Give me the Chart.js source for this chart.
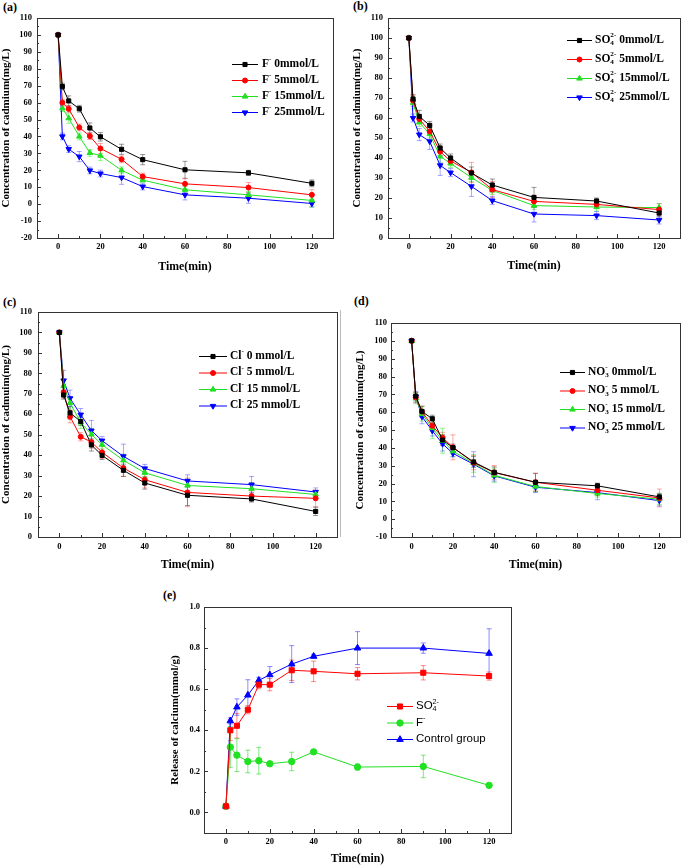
<!DOCTYPE html>
<html lang="en">
<head>
<meta charset="UTF-8">
<title>Cadmium concentration and calcium release</title>
<script src="https://cdn.jsdelivr.net/npm/chart.js"></script>
<style>
    body {
        margin: 0;
        width: 685px;
        height: 868px;
        position: relative;
        overflow: hidden;
        background: #fff;
    }
    canvas { position: absolute; }
    .tag {
        position: absolute;
        font: bold 12px "Liberation Serif", serif;
        color: #000;
    }
    .edge {
        position: absolute;
        left: 340px; top: 310px;
        width: 1px; height: 227px;
        background: #bbb;
    }
</style>
</head>
<body>
<div class="tag" style="left:3px;top:0px">(a)</div>
<div class="tag" style="left:353px;top:-1px">(b)</div>
<div class="tag" style="left:3px;top:295px">(c)</div>
<div class="tag" style="left:354px;top:294px">(d)</div>
<div class="tag" style="left:163px;top:588px">(e)</div>
<div class="edge"></div>
<canvas id="chartA"></canvas>
<canvas id="chartB"></canvas>
<canvas id="chartC"></canvas>
<canvas id="chartD"></canvas>
<canvas id="chartE"></canvas>

<script>
// sampling times (min), shared by every panel
const times = [0, 2, 5, 10, 15, 20, 30, 40, 60, 90, 120];
const xTicks = [0, 20, 40, 60, 80, 100, 120];

// (a) F- concentration series, mg/L
const aLabels = ['F{^-} 0mmol/L', 'F{^-} 5mmol/L', 'F{^-} 15mmol/L', 'F{^-} 25mmol/L'];
const aF0 = [100, 69.5, 61, 56.4, 45, 39.8, 32.4, 26.3, 20.3, 18.5, 12.3];
const aF5 = [100, 60, 56.3, 45.3, 40.2, 32.9, 26.5, 16.3, 12, 9.8, 5.5];
const aF15 = [100, 56.7, 50.8, 40, 30.3, 28.7, 20, 14.2, 8.5, 5.5, 2.2];
const aF25 = [100, 40, 32.5, 28.1, 19.9, 18.1, 15.7, 10.4, 5.5, 3.5, 0.4];
const aErr0 = [0, 2, 3, 2, 3, 2.5, 3, 3, 5, 1.5, 2];
const aErr5 = [0, 2, 2, 2, 2, 3, 2, 2, 3, 3, 3];
const aErr15 = [0, 2, 3, 2, 2, 3, 2, 1, 2, 2, 4];
const aErr25 = [0, 2, 2, 3, 2, 2, 4, 2, 3, 3, 2];
const aTicks = [-20, -10, 0, 10, 20, 30, 40, 50, 60, 70, 80, 90, 100, 110];

// (b) SO4 2- series
const bLabels = ['SO{_4}{^2-} 0mmol/L', 'SO{_4}{^2-} 5mmol/L', 'SO{_4}{^2-} 15mmol/L', 'SO{_4}{^2-} 25mmol/L'];
const bS0 = [100, 69.5, 60.8, 56.3, 45, 40, 32.5, 26.5, 20.3, 18.5, 12.5];
const bS5 = [100, 68.7, 59.5, 53.3, 43.2, 38.5, 32.8, 24.2, 18.3, 16.8, 14.2];
const bS15 = [100, 67.5, 57.8, 52, 40.8, 37.3, 30.2, 23.8, 16.2, 15.5, 15.2];
const bS25 = [100, 60, 51.7, 48.3, 36.3, 32.7, 25.8, 18.7, 12, 11.2, 9];
const bErr0 = [0, 2, 3, 2, 2, 2, 3, 3, 5, 1.5, 2];
const bErr5 = [0, 3, 2, 2, 2, 2, 5, 4, 3, 2, 3];
const bErr15 = [0, 3, 2, 2, 3, 2, 2, 2, 2, 2, 2];
const bErr25 = [0, 2, 3, 4, 5, 2, 5, 2, 4, 2, 2];
const bTicks = [0, 10, 20, 30, 40, 50, 60, 70, 80, 90, 100, 110];

// (c) Cl- series
const cLabels = ['Cl{^-} 0 mmol/L', 'Cl{^-} 5 mmol/L', 'Cl{^-} 15 mmol/L', 'Cl{^-} 25 mmol/L'];
const cC0 = [100, 69.4, 60.7, 56.5, 45, 39.9, 32.6, 26.4, 20.4, 18.6, 12.5];
const cC5 = [100, 70.8, 58.8, 49, 46.4, 41.4, 33.7, 28, 21.8, 20, 18.9];
const cC15 = [100, 73.9, 65.5, 56, 50.2, 45.1, 37.5, 31.4, 25.2, 23.6, 20.8];
const cC25 = [100, 76.5, 67.8, 59.8, 52, 47.1, 39.4, 33.5, 27.4, 25.6, 22];
const cErr0 = [0, 2, 3, 2, 3, 2, 3, 3, 5, 1.5, 2];
const cErr5 = [0, 3, 3, 2, 3, 3, 4, 4, 7, 2, 4];
const cErr15 = [0, 3, 3, 3, 3, 2, 3, 2, 3, 3, 2];
const cErr25 = [0, 5, 4, 3, 5, 2, 6, 2, 3, 4, 2];
const cTicks = [0, 10, 20, 30, 40, 50, 60, 70, 80, 90, 100, 110];

// (d) NO3- series
const dLabels = ['NO{_3}{^-} 0mmol/L', 'NO{_3}{^-} 5 mmol/L', 'NO{_3}{^-} 15 mmol/L', 'NO{_3}{^-} 25 mmol/L'];
const dN0 = [100, 69, 60.4, 56.3, 44.4, 40.1, 32.1, 26.3, 20.7, 18.7, 12.5];
const dN5 = [100, 68.3, 60.3, 52.4, 45.7, 40.3, 31.7, 26.1, 20.7, 16.2, 11.9];
const dN15 = [100, 67.7, 59, 51.1, 44, 38.1, 31.3, 24.6, 18.3, 14.4, 11.2];
const dN25 = [100, 68.7, 57.5, 49.6, 42.2, 36.9, 30.8, 24.3, 17.9, 14.9, 10.4];
const dErr0 = [0, 2, 3, 2, 3, 2, 3, 3, 5, 1.5, 2];
const dErr5 = [0, 3, 3, 3, 3, 7, 4, 4, 5, 3, 5];
const dErr15 = [0, 3, 4, 6, 7, 3, 5, 4, 3, 2, 3];
const dErr25 = [0, 3, 4, 3, 4, 2, 7, 3, 3, 4, 3];
const dTicks = [-10, 0, 10, 20, 30, 40, 50, 60, 70, 80, 90, 100, 110];

// (e) calcium release, mmol/g
const eLabels = ['SO{_4}{^2-}', 'F{^-}', 'Control group'];
const eSO4 = [0.03, 0.40, 0.422, 0.50, 0.622, 0.622, 0.692, 0.687, 0.675, 0.68, 0.664];
const eF = [0.03, 0.318, 0.279, 0.248, 0.252, 0.237, 0.248, 0.295, 0.221, 0.224, 0.132];
const eCtrl = [0.03, 0.446, 0.513, 0.571, 0.643, 0.67, 0.722, 0.76, 0.80, 0.80, 0.774];
const eErrSO4 = [0, 0.05, 0.06, 0.02, 0.02, 0.03, 0.05, 0.05, 0.03, 0.035, 0.02];
const eErrF = [0, 0.1, 0.08, 0.055, 0.065, 0.01, 0.045, 0.01, 0.015, 0.055, 0.01];
const eErrCtrl = [0, 0.015, 0.04, 0.075, 0.015, 0.04, 0.09, 0.01, 0.08, 0.025, 0.12];
const eTicks = [0.0, 0.2, 0.4, 0.6, 0.8, 1.0];

const SERIF = '"Liberation Serif", "Times New Roman", serif';
const SANS = '"Liberation Sans", Arial, sans-serif';
Chart.defaults.font.family = SERIF;

const BLACK = '#000000', RED = '#ff0000', GREEN = '#22e022', BLUE = '#0000ff';

// "SO{_4}{^2-}" -> segments with sub/superscripts
function parseRich(s) {
    const out = [];
    const re = /\{([_^])([^}]*)\}|[^{]+/g;
    let m;
    while ((m = re.exec(s))) out.push(m[1] ? { t: m[2], k: m[1] } : { t: m[0], k: '' });
    return out;
}
function plain(s) {
    return parseRich(s).map(g => g.k === '^' ? g.t.replace('-', '\u207B') : g.t).join('');
}

function drawRich(ctx, s, x, y, font) {
    let subStart = null, subW = 0;
    ctx.fillStyle = '#000';
    ctx.textBaseline = 'middle';
    ctx.textAlign = 'left';
    parseRich(s).forEach(seg => {
        const size = seg.k ? font.size * 0.62 : font.size;
        ctx.font = font.weight + ' ' + size + 'px ' + font.family;
        const w = ctx.measureText(seg.t).width;
        if (seg.k === '^' && subStart !== null) {
            // stack superscript above the preceding subscript
            ctx.fillText(seg.t, subStart, y - font.size * 0.38);
            x = subStart + Math.max(subW, w);
            subStart = null;
            return;
        }
        const dy = seg.k === '^' ? -font.size * 0.38 : seg.k === '_' ? font.size * 0.3 : 0;
        ctx.fillText(seg.t, x, y + dy);
        if (seg.k === '_') { subStart = x; subW = w; } else subStart = null;
        x += w;
    });
}

// box with inward major + minor ticks on bottom and left
const framePlugin = {
    id: 'frame',
    afterDatasetsDraw(chart) {
        const { ctx, chartArea: a, scales: { x, y } } = chart;
        ctx.save();
        ctx.strokeStyle = '#333';
        ctx.lineWidth = 1;
        ctx.strokeRect(Math.round(a.left) + 0.5, Math.round(a.top) + 0.5,
            Math.round(a.right - a.left), Math.round(a.bottom - a.top));
        const marks = (scale, cb) => {
            const vals = scale.ticks.map(t => t.value);
            const step = vals[1] - vals[0];
            vals.forEach(v => cb(v, 4));
            for (let v = vals[0] - step / 2; v <= scale.max; v += step) {
                if (v > scale.min && v < scale.max) cb(v, 2);
            }
        };
        ctx.beginPath();
        marks(x, (v, len) => {
            const px = Math.round(x.getPixelForValue(v)) + 0.5;
            ctx.moveTo(px, a.bottom);
            ctx.lineTo(px, a.bottom - len);
        });
        marks(y, (v, len) => {
            const py = Math.round(y.getPixelForValue(v)) + 0.5;
            ctx.moveTo(a.left, py);
            ctx.lineTo(a.left + len, py);
        });
        ctx.stroke();
        ctx.restore();
    }
};

const errorBarPlugin = {
    id: 'errorBars',
    beforeDatasetsDraw(chart) {
        const { ctx, scales: { y } } = chart;
        chart.data.datasets.forEach((ds, di) => {
            const meta = chart.getDatasetMeta(di);
            ctx.save();
            ctx.strokeStyle = ds.errColor;
            ctx.lineWidth = 1;
            meta.data.forEach((pt, i) => {
                const e = ds.errors[i];
                if (!e) return;
                const v = ds.data[i].y;
                const top = y.getPixelForValue(v + e), bot = y.getPixelForValue(v - e);
                ctx.beginPath();
                ctx.moveTo(pt.x, top); ctx.lineTo(pt.x, bot);
                ctx.moveTo(pt.x - 2.5, top); ctx.lineTo(pt.x + 2.5, top);
                ctx.moveTo(pt.x - 2.5, bot); ctx.lineTo(pt.x + 2.5, bot);
                ctx.stroke();
            });
            ctx.restore();
        });
    }
};

const inLegendPlugin = {
    id: 'inLegend',
    afterDraw(chart, args, opts) {
        const ctx = chart.ctx;
        chart.data.datasets.forEach((ds, i) => {
            const yy = opts.y + i * opts.dy;
            ctx.save();
            ctx.strokeStyle = ds.borderColor;
            ctx.fillStyle = ds.backgroundColor;
            ctx.lineWidth = 1;
            ctx.beginPath();
            ctx.moveTo(opts.x, yy + 0.5);
            ctx.lineTo(opts.x + opts.len, yy + 0.5);
            ctx.stroke();
            Chart.helpers.drawPoint(ctx, {
                pointStyle: ds.pointStyle,
                rotation: ds.pointRotation || 0,
                radius: ds.pointRadius,
                borderWidth: 1
            }, opts.x + opts.len / 2, yy + 0.5);
            drawRich(ctx, ds.rich, opts.x + opts.len + opts.gap, yy, opts.font);
            ctx.restore();
        });
    }
};

function series(label, values, errors, color, errColor, style, radius, rotation) {
    return {
        label: plain(label),
        rich: label,
        data: times.map((t, i) => ({ x: t, y: values[i] })),
        errors: errors,
        errColor: errColor,
        borderColor: color,
        backgroundColor: color,
        borderWidth: 1,
        pointStyle: style,
        pointRotation: rotation || 0,
        pointRadius: radius,
        pointBorderWidth: 1,
        tension: 0
    };
}

function buildPanel(p) {
    const cv = document.getElementById(p.id);
    cv.width = p.box.w;
    cv.height = p.box.h;
    cv.style.left = p.box.x + 'px';
    cv.style.top = p.box.y + 'px';
    cv.style.width = p.box.w + 'px';
    cv.style.height = p.box.h + 'px';
    const yW = p.area.l - p.box.x;
    const xH = p.box.y + p.box.h - p.area.b;
    const tickFont = { family: SERIF, weight: 'bold', size: 8.5 };
    const titleFont = { family: SERIF, weight: 'bold', size: 11 };
    const xTitleFont = { family: SERIF, weight: 'bold', size: 11.8 };

    return new Chart(cv.getContext('2d'), {
        type: 'line',
        data: { datasets: p.datasets },
        options: {
            responsive: false,
            animation: false,
            events: [],
            layout: {
                padding: { left: 0, bottom: 0, top: p.area.t - p.box.y, right: p.box.x + p.box.w - p.area.r }
            },
            plugins: {
                legend: { display: false },
                tooltip: { enabled: false },
                inLegend: p.legend
            },
            scales: {
                x: {
                    type: 'linear',
                    min: -10,
                    max: 130,
                    afterBuildTicks: s => { s.ticks = xTicks.map(v => ({ value: v })); },
                    afterFit: s => { s.height = xH; },
                    grid: { display: false, drawTicks: false },
                    border: { display: false },
                    ticks: { font: tickFont, color: '#000', padding: p.xPad, autoSkip: false, maxRotation: 0 },
                    title: { display: true, text: 'Time(min)', font: xTitleFont, color: '#000', padding: { top: 0, bottom: p.xTitlePad } }
                },
                y: {
                    type: 'linear',
                    min: p.yMin,
                    max: p.yMax,
                    afterBuildTicks: s => { s.ticks = p.yTicks.map(v => ({ value: v })); },
                    afterFit: s => { s.width = yW; },
                    grid: { display: false, drawTicks: false },
                    border: { display: false },
                    ticks: {
                        font: tickFont, color: '#000', padding: p.yPad, autoSkip: false,
                        callback: v => p.yDigits ? v.toFixed(p.yDigits) : v
                    },
                    title: { display: true, text: p.yTitle, font: titleFont, color: '#000', padding: { top: p.yTitlePad, bottom: 0 } }
                }
            }
        },
        plugins: [errorBarPlugin, framePlugin, inLegendPlugin]
    });
}

const legendFont = { family: SERIF, weight: 'bold', size: 11.5 };
const eb = a => 'rgba(0,0,0,' + a + ')';

buildPanel({
    id: 'chartA',
    box: { x: 0, y: 0, w: 340, h: 285 },
    area: { l: 37, t: 18, r: 333, b: 238 },
    yMin: -20, yMax: 110, yTicks: aTicks,
    yTitle: 'Concentration of cadmium(mg/L)',
    yPad: 5, xPad: 4, yTitlePad: 0, xTitlePad: 11,
    legend: { x: 232, y: 64, dy: 16, len: 26, gap: 4, font: legendFont },
    datasets: [
        series(aLabels[0], aF0, aErr0, BLACK, eb(0.4), 'rect', 2.9),
        series(aLabels[1], aF5, aErr5, RED, 'rgba(255,0,0,0.35)', 'circle', 2.5),
        series(aLabels[2], aF15, aErr15, GREEN, 'rgba(0,220,0,0.4)', 'triangle', 3.2),
        series(aLabels[3], aF25, aErr25, BLUE, 'rgba(0,0,255,0.35)', 'triangle', 3.2, 180)
    ]
});

buildPanel({
    id: 'chartB',
    box: { x: 342, y: 0, w: 343, h: 285 },
    area: { l: 388, t: 18, r: 683, b: 238 },
    yMin: 0, yMax: 110, yTicks: bTicks,
    yTitle: 'Concentration of cadmium(mg/L)',
    yPad: 5, xPad: 4, yTitlePad: 9, xTitlePad: 12,
    legend: { x: 225, y: 40, dy: 19, len: 25, gap: 3, font: legendFont },
    datasets: [
        series(bLabels[0], bS0, bErr0, BLACK, eb(0.4), 'rect', 2.9),
        series(bLabels[1], bS5, bErr5, RED, 'rgba(255,0,0,0.35)', 'circle', 2.5),
        series(bLabels[2], bS15, bErr15, GREEN, 'rgba(0,220,0,0.4)', 'triangle', 3.2),
        series(bLabels[3], bS25, bErr25, BLUE, 'rgba(0,0,255,0.35)', 'triangle', 3.2, 180)
    ]
});

buildPanel({
    id: 'chartC',
    box: { x: 0, y: 290, w: 342, h: 298 },
    area: { l: 38, t: 312, r: 340, b: 537 },
    yMin: 0, yMax: 110, yTicks: cTicks,
    yTitle: 'Concentration of cadmuim(mg/L)',
    yPad: 6, xPad: 5, yTitlePad: 0, xTitlePad: 16,
    legend: { x: 199, y: 66, dy: 16.5, len: 28, gap: 3, font: legendFont },
    datasets: [
        series(cLabels[0], cC0, cErr0, BLACK, eb(0.4), 'rect', 2.9),
        series(cLabels[1], cC5, cErr5, RED, 'rgba(255,0,0,0.35)', 'circle', 2.5),
        series(cLabels[2], cC15, cErr15, GREEN, 'rgba(0,220,0,0.4)', 'triangle', 3.2),
        series(cLabels[3], cC25, cErr25, BLUE, 'rgba(0,0,255,0.35)', 'triangle', 3.2, 180)
    ]
});

buildPanel({
    id: 'chartD',
    box: { x: 350, y: 290, w: 335, h: 298 },
    area: { l: 391, t: 323, r: 680, b: 537 },
    yMin: -10, yMax: 110, yTicks: dTicks,
    yTitle: 'Concentration of cadmium(mg/L)',
    yPad: 4, xPad: 5, yTitlePad: 4, xTitlePad: 16,
    legend: { x: 210, y: 82, dy: 18.5, len: 25, gap: 3, font: legendFont },
    datasets: [
        series(dLabels[0], dN0, dErr0, BLACK, eb(0.4), 'rect', 2.9),
        series(dLabels[1], dN5, dErr5, RED, 'rgba(255,0,0,0.35)', 'circle', 2.5),
        series(dLabels[2], dN15, dErr15, GREEN, 'rgba(0,220,0,0.4)', 'triangle', 3.2),
        series(dLabels[3], dN25, dErr25, BLUE, 'rgba(0,0,255,0.35)', 'triangle', 3.2, 180)
    ]
});

buildPanel({
    id: 'chartE',
    box: { x: 160, y: 592, w: 380, h: 276 },
    area: { l: 204, t: 607, r: 511, b: 833 },
    yMin: -0.1, yMax: 1.0, yTicks: eTicks, yDigits: 1,
    yTitle: 'Release of calcium(mmol/g)',
    yPad: 4, xPad: 4, yTitlePad: 9, xTitlePad: 2,
    legend: { x: 227, y: 114, dy: 16.5, len: 26, gap: 3, font: { family: SANS, weight: 'normal', size: 11.5 } },
    datasets: [
        series(eLabels[0], eSO4, eErrSO4, RED, 'rgba(255,0,0,0.45)', 'rect', 3.6),
        series(eLabels[1], eF, eErrF, GREEN, 'rgba(0,210,0,0.5)', 'circle', 3.2),
        series(eLabels[2], eCtrl, eErrCtrl, BLUE, 'rgba(0,0,255,0.45)', 'triangle', 3.8)
    ]
});
</script>
</body>
</html>
